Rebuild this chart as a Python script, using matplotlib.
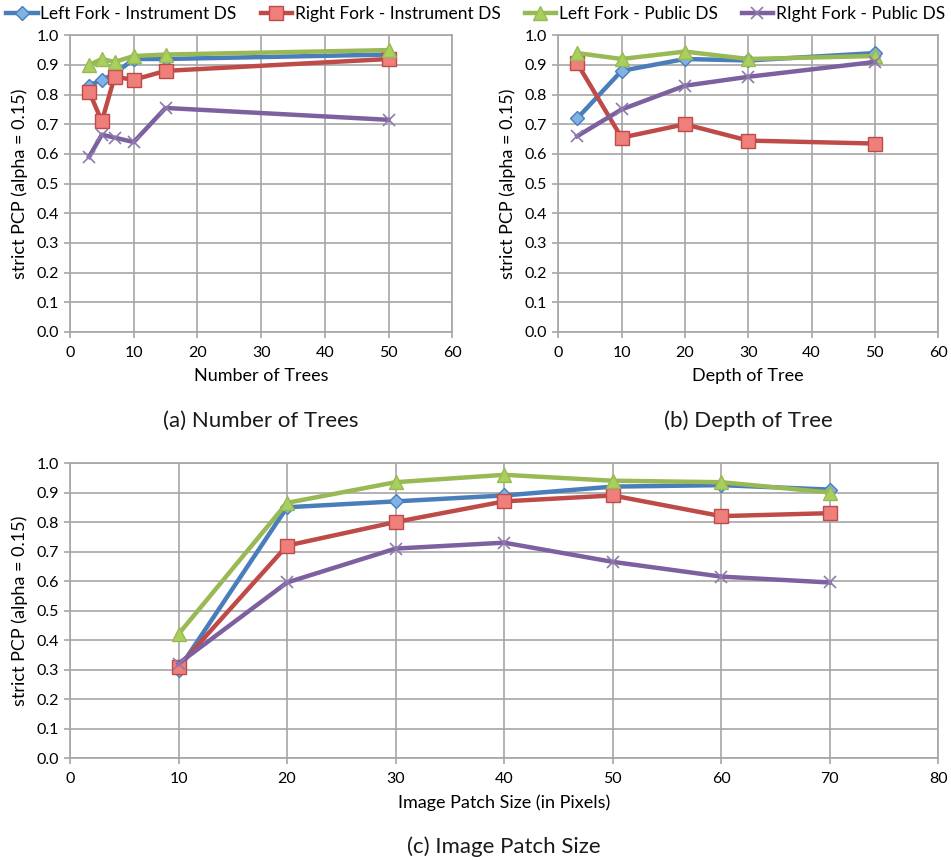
import numpy as np
import matplotlib.pyplot as plt
from matplotlib.lines import Line2D

plt.rcParams['font.family'] = ['Lato', 'DejaVu Sans']

# (a) Number of Trees
trees_x = [3, 5, 7, 10, 15, 50]
trees_left_inst = [0.83, 0.85, 0.87, 0.92, 0.92, 0.935]
trees_right_inst = [0.81, 0.71, 0.86, 0.85, 0.88, 0.92]
trees_left_pub = [0.90, 0.92, 0.91, 0.93, 0.935, 0.95]
trees_right_pub = [0.59, 0.665, 0.655, 0.64, 0.755, 0.715]

# (b) Depth of Tree
depth_x = [3, 10, 20, 30, 50]
depth_left_inst = [0.72, 0.88, 0.92, 0.915, 0.94]
depth_right_inst = [0.905, 0.655, 0.70, 0.645, 0.635]
depth_left_pub = [0.94, 0.92, 0.945, 0.92, 0.93]
depth_right_pub = [0.66, 0.75, 0.83, 0.86, 0.91]

# (c) Image Patch Size
patch_x = [10, 20, 30, 40, 50, 60, 70]
patch_left_inst = [0.30, 0.85, 0.87, 0.89, 0.92, 0.925, 0.91]
patch_right_inst = [0.31, 0.72, 0.80, 0.87, 0.89, 0.82, 0.83]
patch_left_pub = [0.42, 0.865, 0.935, 0.96, 0.94, 0.935, 0.90]
patch_right_pub = [0.32, 0.595, 0.71, 0.73, 0.665, 0.615, 0.595]

names = ['Left Fork - Instrument DS', 'Right Fork - Instrument DS',
         'Left Fork - Public DS', 'RIght Fork - Public DS']

# style per series: line colour, marker, face colour
styles = [
    dict(color='#4A7EBB', marker='D', mfc='#7FB2E5', mec='#4A7EBB', ms=7),
    dict(color='#BE4B48', marker='s', mfc='#EF7F7B', mec='#BE4B48', ms=10),
    dict(color='#98B954', marker='^', mfc='#A9CF5F', mec='#98B954', ms=10),
    dict(color='#7D60A0', marker='x', mfc='#7D60A0', mec='#8F7AAD', ms=9, mew=1.2),
]

grid_c = '#A6A6A6'


def draw(ax, x, series, xmax, xlabel, caption):
    for y, st in zip(series, styles):
        ax.plot(x, y, lw=3.2, **st)
    ax.set_xlim(0, xmax)
    ax.set_ylim(0, 1.0)
    ax.set_xticks(np.arange(0, xmax + 1, 10))
    ax.set_yticks(np.arange(0, 1.01, 0.1))
    ax.set_yticklabels(['%.1f' % v for v in np.arange(0, 1.01, 0.1)])
    ax.grid(True, color=grid_c, lw=1.2)
    ax.set_axisbelow(True)
    for s in ax.spines.values():
        s.set_color(grid_c)
        s.set_linewidth(1.2)
    ax.tick_params(axis='x', color=grid_c, length=4, width=1.2, labelsize=11.5, pad=6)
    ax.tick_params(axis='y', color=grid_c, length=4, width=1.2, labelsize=11.5, pad=4)
    ax.set_xlabel(xlabel, fontsize=13, labelpad=6)
    ax.set_ylabel('strict PCP (alpha = 0.15)', fontsize=13, labelpad=6)
    ax.text(0.5, -0.3, caption, transform=ax.transAxes, ha='center', va='center',
            fontsize=16, color='#1a1a1a')


fig = plt.figure(figsize=(9.51, 8.6), dpi=100)

ax_a = fig.add_axes([0.0736, 0.614, 0.402, 0.345])
ax_b = fig.add_axes([0.587, 0.614, 0.3996, 0.345])
ax_c = fig.add_axes([0.0736, 0.1186, 0.913, 0.343])

draw(ax_a, trees_x, [trees_left_inst, trees_right_inst, trees_left_pub, trees_right_pub],
     60, 'Number of Trees', '(a) Number of Trees')
draw(ax_b, depth_x, [depth_left_inst, depth_right_inst, depth_left_pub, depth_right_pub],
     60, 'Depth of Tree', '(b) Depth of Tree')
draw(ax_c, patch_x, [patch_left_inst, patch_right_inst, patch_left_pub, patch_right_pub],
     80, 'Image Patch Size (in Pixels)', '(c) Image Patch Size')

handles = [Line2D([], [], lw=3.2, **st) for st in styles]
fig.legend(handles, names, loc='upper center', bbox_to_anchor=(0.5, 1.005), ncol=4,
           frameon=False, fontsize=12.5, handlelength=1.8, handletextpad=0.15,
           columnspacing=1.4, borderaxespad=0.2)

fig.savefig('out.png', dpi=100)
